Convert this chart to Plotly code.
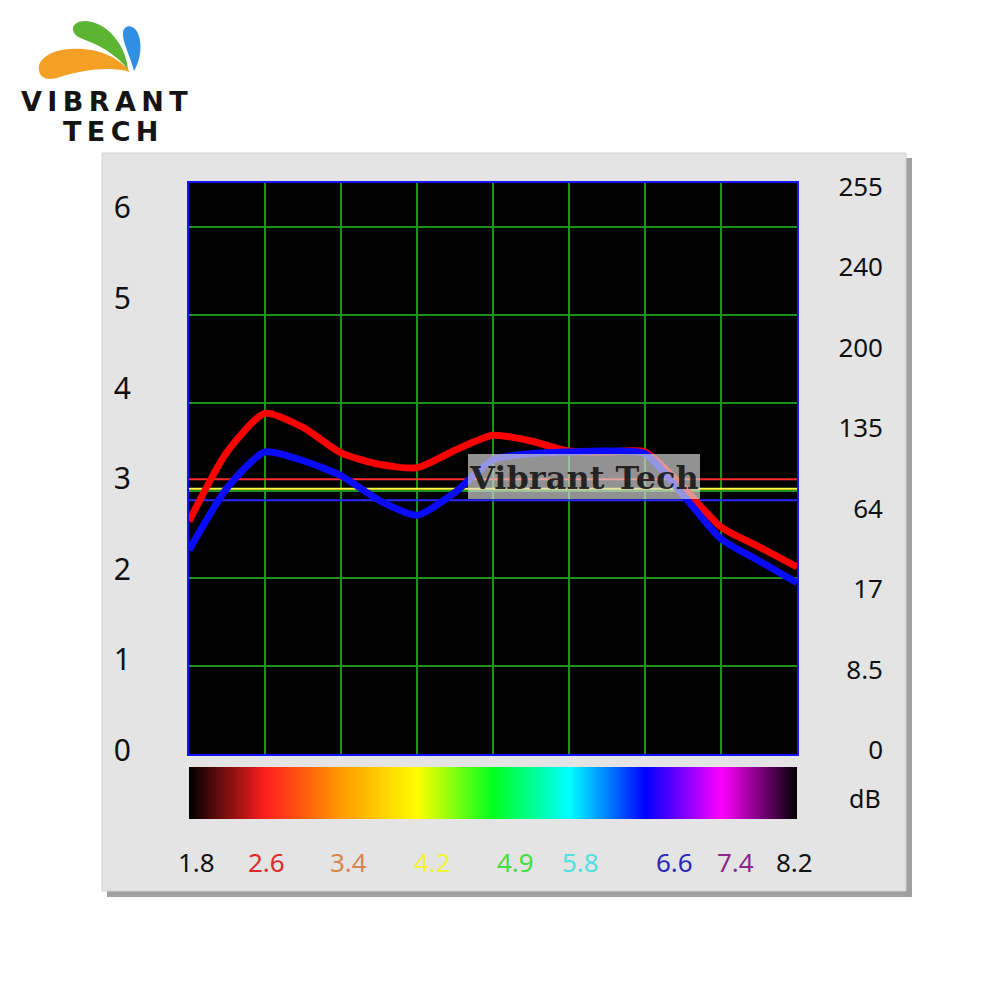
import plotly.graph_objects as go

# ---------------- data ----------------
x_pos = [0, 0.5, 1, 1.5, 2, 2.5, 3, 3.5, 4, 4.5, 5, 5.5, 6, 6.5, 7, 7.5, 8]
red_curve = [2.65, 3.44, 3.88, 3.72, 3.43, 3.30, 3.26, 3.46, 3.63, 3.565, 3.45, 3.44, 3.44, 3.04, 2.585, 2.36, 2.13]
blue_curve = [2.32, 3.03, 3.44, 3.34, 3.17, 2.89, 2.72, 2.98, 3.35, 3.42, 3.44, 3.45, 3.42, 2.95, 2.45, 2.20, 1.95]

threshold_levels = [3.13, 3.02, 2.89]
threshold_colors = ["#ff2a2a", "#ffff3c", "#2a2aff"]

left_ticks = [0, 1, 2, 3, 4, 5, 6]
right_ticks = [0, 1, 2, 3, 4, 5, 6, 7]
right_tick_labels = ["0", "8.5", "17", "64", "135", "200", "240", "255"]

gradient_colors = ["#000000", "#ff1e1e", "#ff9a00", "#ffff00", "#00ff20",
                   "#00ffff", "#0000ff", "#ff00ff", "#000000"]
gradient_steps = [0, 1, 2, 3, 4, 5, 6, 7, 8]

scale_labels = ["1.8", "2.6", "3.4", "4.2", "4.9", "5.8", "6.6", "7.4", "8.2"]
scale_label_pos = [0.10, 1.02, 2.10, 3.20, 4.29, 5.15, 6.39, 7.19, 7.97]
scale_label_colors = ["#111111", "#e02a2a", "#d8874e", "#f2f23a", "#44dd44",
                      "#4fe0e0", "#2a2ab8", "#8c2a8c", "#111111"]

# ---------------- helpers ----------------
OFF = 8  # page body margin offset

def px(x):
    return (x - OFF) / 1000.0

def py(y):
    return 1 - (y - OFF) / 1000.0

def path(cmds):
    out = []
    for c in cmds:
        if isinstance(c, str):
            out.append(c)
        else:
            out.append(f"{px(c[0]):.4f},{py(c[1]):.4f}")
    return " ".join(out)

PLOT_X0, PLOT_X1 = 189, 797
PLOT_Y0, PLOT_Y1 = 183, 754

fig = go.Figure()

# threshold lines
for lvl, col in zip(threshold_levels, threshold_colors):
    fig.add_trace(go.Scatter(x=[x_pos[0], x_pos[-1]], y=[lvl, lvl], mode="lines",
                             line=dict(color=col, width=2), showlegend=False,
                             hoverinfo="skip", xaxis="x", yaxis="y"))

# curves
fig.add_trace(go.Scatter(x=x_pos, y=red_curve, mode="lines",
                         line=dict(color="#ff0000", width=7, shape="spline", smoothing=0.65),
                         showlegend=False, xaxis="x", yaxis="y", name="red"))
fig.add_trace(go.Scatter(x=x_pos, y=blue_curve, mode="lines",
                         line=dict(color="#0a0aff", width=7, shape="spline", smoothing=0.65),
                         showlegend=False, xaxis="x", yaxis="y", name="blue"))

# dummy traces to activate label axes
fig.add_trace(go.Scatter(x=[None], y=[None], xaxis="x", yaxis="y2", showlegend=False, hoverinfo="skip"))
fig.add_trace(go.Scatter(x=[None], y=[None], xaxis="x", yaxis="y3", showlegend=False, hoverinfo="skip"))

# colour scale bar
n = len(gradient_colors) - 1
cscale = [[i / n, c] for i, c in enumerate(gradient_colors)]
fig.add_trace(go.Heatmap(z=[gradient_steps, gradient_steps], x=gradient_steps, y=[0, 1],
                         colorscale=cscale, zsmooth="best", showscale=False,
                         xaxis="x4", yaxis="y4", hoverinfo="skip"))

shapes = []
# panel shadow and panel
shapes.append(dict(type="rect", xref="paper", yref="paper", x0=px(107), x1=px(912),
                   y0=py(897), y1=py(158), fillcolor="#a0a0a0", line=dict(width=0), layer="below"))
shapes.append(dict(type="rect", xref="paper", yref="paper", x0=px(102), x1=px(906),
                   y0=py(891), y1=py(153), fillcolor="#e4e4e4", line=dict(color="#d2d2d2", width=1),
                   layer="below"))
# black plot area
shapes.append(dict(type="rect", xref="paper", yref="paper", x0=px(PLOT_X0), x1=px(PLOT_X1),
                   y0=py(PLOT_Y1), y1=py(PLOT_Y0), fillcolor="#000000", line=dict(width=0),
                   layer="below"))
# watermark box
shapes.append(dict(type="rect", xref="paper", yref="paper", x0=px(468), x1=px(700),
                   y0=py(499), y1=py(454), fillcolor="rgba(215,215,215,0.68)",
                   line=dict(width=0), layer="above"))

# logo swooshes
orange = path(["M", (130, 72), "C", (118, 56), (95, 47), (70, 49), "C", (50, 50), (37, 60), (39, 70),
               "C", (40, 79), (49, 81), (60, 77), "C", (82, 70), (110, 66), (130, 72), "Z"])
green = path(["M", (128, 70), "C", (127, 50), (112, 27), (92, 22), "C", (80, 19), (72, 24), (73, 30),
              "C", (74, 36), (80, 38), (88, 41), "C", (105, 48), (120, 58), (128, 70), "Z"])
blue = path(["M", (134, 71), "C", (142, 58), (143, 38), (135, 29), "C", (130, 24), (124, 26), (123, 32),
             "C", (122, 42), (130, 55), (134, 71), "Z"])
shapes.append(dict(type="path", xref="paper", yref="paper", path=orange,
                   fillcolor="#f4a024", line=dict(width=0), layer="above"))
shapes.append(dict(type="path", xref="paper", yref="paper", path=green,
                   fillcolor="#5cb532", line=dict(width=0), layer="above"))
shapes.append(dict(type="path", xref="paper", yref="paper", path=blue,
                   fillcolor="#2f8fe2", line=dict(width=0), layer="above"))

annotations = []
annotations.append(dict(text="<b>Vibrant Tech</b>", xref="paper", yref="paper", x=px(584), y=py(478),
                        showarrow=False, xanchor="center", yanchor="middle",
                        font=dict(family="DejaVu Serif", size=32, color="rgba(20,20,20,0.88)")))
annotations.append(dict(text="dB", xref="paper", yref="paper", x=px(883), y=py(798),
                        showarrow=False, xanchor="right", yanchor="middle",
                        font=dict(family="Noto Sans", size=25, color="#111111")))
for lab, pos, col in zip(scale_labels, scale_label_pos, scale_label_colors):
    annotations.append(dict(text=lab, xref="x4", yref="paper", x=pos, y=py(862),
                            showarrow=False, xanchor="center", yanchor="middle",
                            font=dict(family="Noto Sans", size=26, color=col)))
thin = "\u2009"
annotations.append(dict(text=thin.join("VIBRANT"), xref="paper", yref="paper", x=px(104), y=py(102),
                        showarrow=False, xanchor="center", yanchor="middle",
                        font=dict(family="DejaVu Sans", size=27, color="#141414", weight="bold")))
annotations.append(dict(text=thin.join("TECH"), xref="paper", yref="paper", x=px(110), y=py(131),
                        showarrow=False, xanchor="center", yanchor="middle",
                        font=dict(family="DejaVu Sans", size=27, color="#141414", weight="bold")))

grid_green = "#1c921c"
y_top = (PLOT_Y1 - PLOT_Y0) / 87.8

fig.update_layout(
    width=1000, height=1000,
    margin=dict(l=0, r=0, t=0, b=0, pad=0, autoexpand=False),
    paper_bgcolor="#ffffff", plot_bgcolor="rgba(0,0,0,0)",
    showlegend=False,
    shapes=shapes, annotations=annotations,
    xaxis=dict(domain=[px(PLOT_X0), px(PLOT_X1)], range=[0, 8], dtick=1, tick0=0,
               showgrid=True, gridcolor=grid_green, gridwidth=1.5, zeroline=False,
               showticklabels=False, ticks="", showline=True, mirror=True, automargin=False,
               linecolor="#1414ff", linewidth=2, anchor="y"),
    yaxis=dict(domain=[py(PLOT_Y1), py(PLOT_Y0)], range=[0, y_top], dtick=1, tick0=0,
               showgrid=True, gridcolor=grid_green, gridwidth=1.5, zeroline=False,
               showticklabels=False, ticks="", showline=True, mirror=True, automargin=False,
               linecolor="#1414ff", linewidth=2, anchor="x"),
    yaxis2=dict(overlaying="y", anchor="free", position=px(131), side="left",
                range=[(750 - PLOT_Y1) / 90.4, (750 - PLOT_Y0) / 90.4],
                tickvals=left_ticks, ticktext=[str(v) for v in left_ticks],
                showgrid=False, zeroline=False, showline=False, ticks="", automargin=False,
                tickfont=dict(family="Noto Sans", size=30, color="#111111")),
    yaxis3=dict(overlaying="y", anchor="free", position=px(883), side="left",
                range=[(750 - PLOT_Y1) / 80.5, (750 - PLOT_Y0) / 80.5],
                tickvals=right_ticks, ticktext=right_tick_labels,
                showgrid=False, zeroline=False, showline=False, ticks="", automargin=False,
                tickfont=dict(family="Noto Sans", size=26, color="#111111")),
    xaxis4=dict(domain=[px(PLOT_X0), px(PLOT_X1)], range=[0, 8], visible=False, anchor="y4",
                automargin=False),
    yaxis4=dict(domain=[py(819), py(767)], range=[0, 1], visible=False, anchor="x4",
                automargin=False),
)

fig.write_html("out.html")
